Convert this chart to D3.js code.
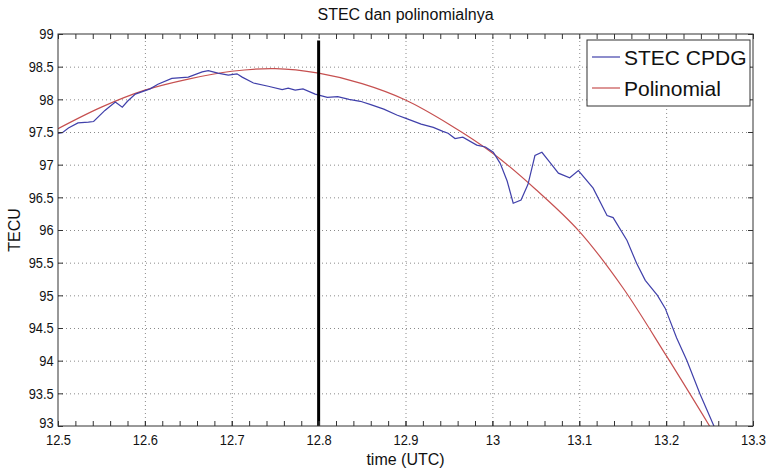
<!DOCTYPE html>
<html>
<head>
<meta charset="utf-8">
<script src="https://cdn.jsdelivr.net/npm/d3@7"></script>
<style>
  body { margin: 0; background: #fff; }
  svg { display: block; font-family: "Liberation Sans", Arial, sans-serif; }
  .grid line { stroke: #8a8a8a; stroke-dasharray: 1,3; }
  .grid path { display: none; }
  .ax path { display: none; }
  .ax line { stroke: #333; }
  .ax text { fill: #111; font-size: 15px; }
</style>
</head>
<body>
<div id="chart"></div>
<script>
// STEC CPDG observation and its polynomial fit
const stecTime = [12.500, 12.505, 12.512, 12.523, 12.535, 12.541, 12.554, 12.566, 12.574, 12.580,
  12.589, 12.606, 12.615, 12.631, 12.650, 12.666, 12.673, 12.684, 12.696, 12.706,
  12.712, 12.725, 12.742, 12.758, 12.765, 12.773, 12.782, 12.796, 12.810, 12.822,
  12.835, 12.848, 12.860, 12.875, 12.890, 12.902, 12.918, 12.932, 12.943, 12.949,
  12.957, 12.966, 12.982, 12.992, 13.001, 13.009, 13.017, 13.024, 13.033, 13.041,
  13.049, 13.057, 13.066, 13.076, 13.089, 13.099, 13.116, 13.132, 13.139, 13.155,
  13.166, 13.176, 13.190, 13.199, 13.212, 13.224, 13.239, 13.256];
const stecValue = [97.48, 97.49, 97.56, 97.64, 97.65, 97.66, 97.83, 97.96, 97.88, 97.97,
  98.08, 98.16, 98.23, 98.32, 98.34, 98.42, 98.44, 98.40, 98.37, 98.39,
  98.34, 98.25, 98.20, 98.15, 98.17, 98.14, 98.16, 98.08, 98.03, 98.04,
  98.00, 97.97, 97.92, 97.85, 97.76, 97.70, 97.62, 97.57, 97.51, 97.48,
  97.40, 97.42, 97.30, 97.27, 97.19, 97.02, 96.75, 96.41, 96.46, 96.70,
  97.14, 97.19, 97.04, 96.87, 96.80, 96.91, 96.64, 96.22, 96.19, 95.84,
  95.49, 95.23, 95.00, 94.80, 94.35, 94.00, 93.49, 92.97];

const polyTime = [12.50, 12.55, 12.60, 12.65, 12.70, 12.75, 12.80, 12.85,
  12.90, 12.95, 13.00, 13.05, 13.10, 13.15, 13.20, 13.25];
const polyValue = [97.55, 97.88, 98.14, 98.31, 98.43, 98.47, 98.40, 98.24,
  97.99, 97.62, 97.18, 96.62, 95.98, 95.12, 94.08, 93.00];

const xTicks = [12.5, 12.6, 12.7, 12.8, 12.9, 13.0, 13.1, 13.2, 13.3];
const xTickLabels = ["12.5", "12.6", "12.7", "12.8", "12.9", "13", "13.1", "13.2", "13.3"];
const xMinorTicks = d3.range(0, 41).map(i => 12.5 + i * 0.02);
const yTicks = [93, 93.5, 94, 94.5, 95, 95.5, 96, 96.5, 97, 97.5, 98, 98.5, 99];
const yTickLabels = ["93", "93.5", "94", "94.5", "95", "95.5", "96", "96.5", "97", "97.5", "98", "98.5", "99"];

const markerTime = 12.8;
const seriesNames = ["STEC CPDG", "Polinomial"];
const seriesColors = ["#4040aa", "#c65050"];

const W = 769, H = 470;
const m = { left: 58, right: 16, top: 34, bottom: 44 };
const w = W - m.left - m.right, h = H - m.top - m.bottom;

const svg = d3.select('#chart').append('svg')
    .attr('width', W)
    .attr('height', H);

const x = d3.scaleLinear().domain([12.5, 13.3]).range([0, w]);
const y = d3.scaleLinear().domain([93, 99]).range([h, 0]);

const g = svg.append('g').attr('transform', `translate(${m.left},${m.top})`);

svg.append('defs').append('clipPath').attr('id', 'clip')
  .append('rect').attr('width', w).attr('height', h);

// dotted grid
g.append('g').attr('class', 'grid')
    .attr('transform', `translate(0,${h})`)
    .call(d3.axisBottom(x).tickValues(xTicks.slice(1, -1)).tickSize(-h).tickFormat(''));
g.append('g').attr('class', 'grid')
    .call(d3.axisLeft(y).tickValues(yTicks.slice(1, -1)).tickSize(-w).tickFormat(''));

// lines
const stec = stecTime.map((t, i) => [t, stecValue[i]]);
const poly = polyTime.map((t, i) => [t, polyValue[i]]);

const plot = g.append('g').attr('clip-path', 'url(#clip)');
plot.append('path')
    .attr('d', d3.line().curve(d3.curveCatmullRom).x(d => x(d[0])).y(d => y(d[1]))(poly))
    .attr('fill', 'none').attr('stroke', seriesColors[1]).attr('stroke-width', 1.2);
plot.append('path')
    .attr('d', d3.line().x(d => x(d[0])).y(d => y(d[1]))(stec))
    .attr('fill', 'none').attr('stroke', seriesColors[0]).attr('stroke-width', 1.2);

// marker at 12.8
g.append('line')
    .attr('x1', x(markerTime)).attr('x2', x(markerTime))
    .attr('y1', y(98.9)).attr('y2', y(93))
    .attr('stroke', '#000').attr('stroke-width', 3);

// axes (ticks inside, MATLAB style)
const condense = sel => sel.selectAll('text').attr('transform', 'scale(0.86,1)');

g.append('g').attr('class', 'ax')
    .attr('transform', `translate(0,${h})`)
    .call(d3.axisBottom(x).tickValues(xMinorTicks).tickSize(-5).tickFormat(''));
g.append('g').attr('class', 'ax')
    .attr('transform', `translate(0,${h})`)
    .call(d3.axisBottom(x).tickValues(xTicks).tickSize(-5).tickPadding(8)
      .tickFormat((d, i) => xTickLabels[i]))
    .call(condense);
g.append('g').attr('class', 'ax')
    .call(d3.axisTop(x).tickValues(xMinorTicks).tickSize(-5).tickFormat(''));
g.append('g').attr('class', 'ax')
    .call(d3.axisLeft(y).tickValues(yTicks).tickSize(-5).tickPadding(5)
      .tickFormat((d, i) => yTickLabels[i]))
    .call(condense);
// MATLAB lifts the bottom y label a touch above the x labels
g.selectAll('.ax text').filter(d => d === 93).attr('dy', '0.1em');
g.append('g').attr('class', 'ax')
    .attr('transform', `translate(${w},0)`)
    .call(d3.axisRight(y).tickValues(yTicks).tickSize(-5).tickFormat(''));

g.append('rect')
    .attr('width', w).attr('height', h)
    .attr('fill', 'none').attr('stroke', '#333');

// titles
svg.append('text')
    .attr('x', m.left + w / 2).attr('y', 20)
    .attr('text-anchor', 'middle').attr('font-size', 16).attr('fill', '#111')
    .text('STEC dan polinomialnya');
svg.append('text')
    .attr('x', m.left + w / 2).attr('y', 465)
    .attr('text-anchor', 'middle').attr('font-size', 16).attr('fill', '#111')
    .text('time (UTC)');
svg.append('text')
    .attr('transform', `translate(20,${m.top + h / 2}) rotate(-90)`)
    .attr('text-anchor', 'middle').attr('font-size', 16).attr('fill', '#111')
    .text('TECU');

// legend
const lg = svg.append('g').attr('transform', 'translate(587,40)');
lg.append('rect').attr('width', 163).attr('height', 66)
    .attr('fill', '#fff').attr('stroke', '#333');
seriesNames.forEach((name, i) => {
  const row = lg.append('g').attr('transform', `translate(0,${17 + i * 31})`);
  row.append('line').attr('x1', 5).attr('x2', 33)
      .attr('stroke', seriesColors[i]).attr('stroke-width', 1.2);
  row.append('text').attr('x', 37).attr('y', 8)
      .attr('font-size', 21).attr('fill', '#111')
      .text(name);
});
</script>
</body>
</html>
